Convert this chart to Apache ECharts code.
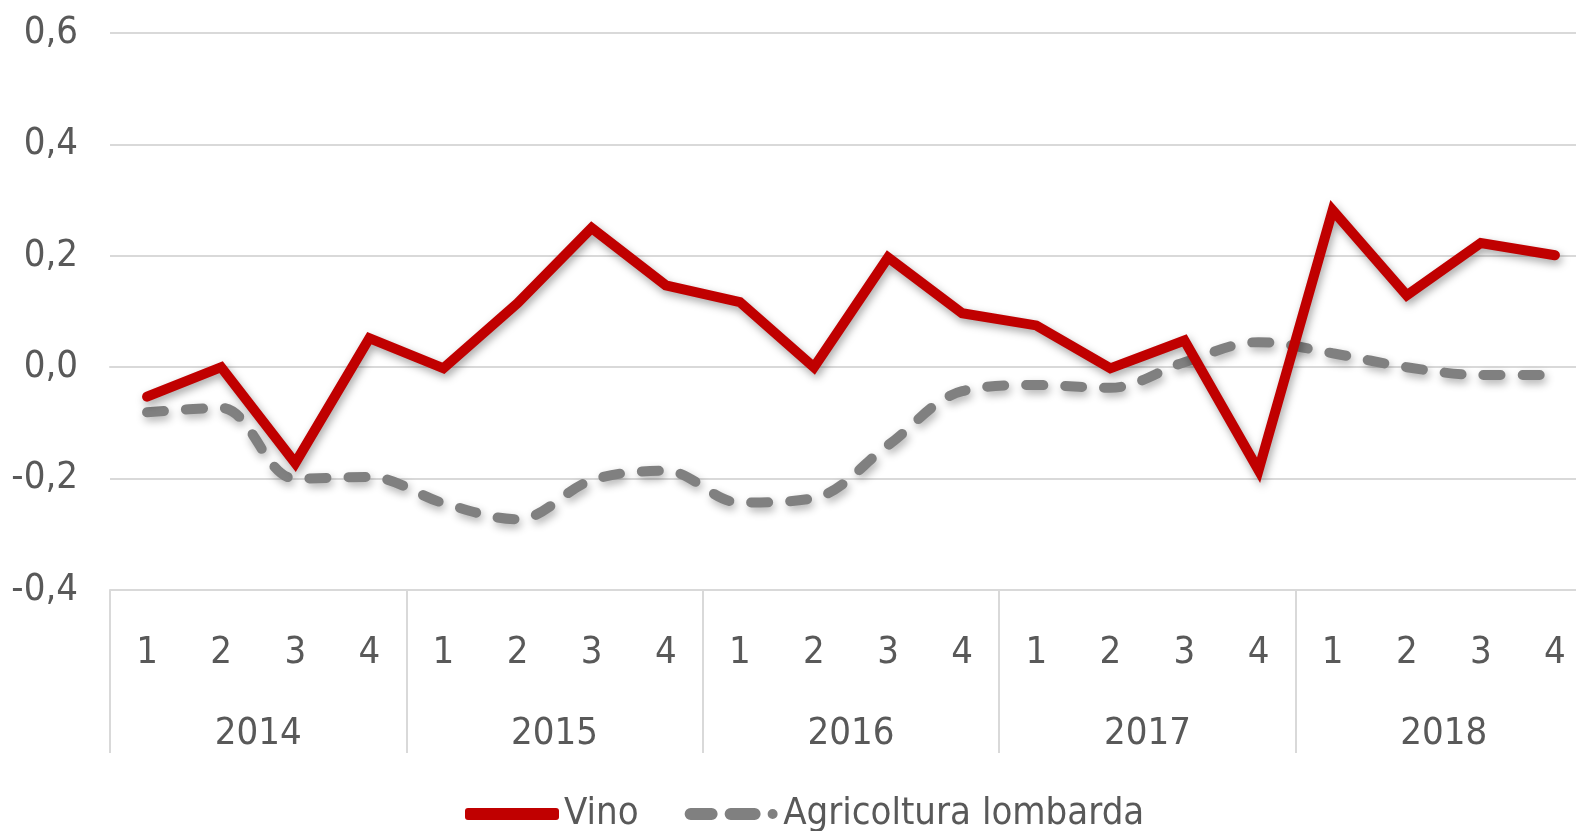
<!DOCTYPE html>
<html>
<head>
<meta charset="utf-8">
<script src="https://cdn.jsdelivr.net/npm/echarts@6/dist/echarts.min.js"></script>
<style>
html, body { margin: 0; padding: 0; background: #fff; }
#chart { width: 1576px; height: 831px; }
</style>
</head>
<body>
<div id="chart"></div>
<script>
var quarters = ['1','2','3','4','1','2','3','4','1','2','3','4','1','2','3','4','1','2','3','4'];
var years = ['2014','2015','2016','2017','2018'];
var vino = [-0.053, 0.0, -0.172, 0.052, -0.002, 0.115, 0.25, 0.147, 0.117, 0.0,
	0.197, 0.097, 0.075, -0.002, 0.048, -0.185, 0.282, 0.129, 0.223, 0.201];
var agricoltura = [-0.081, -0.073, -0.2, -0.197, -0.244, -0.273, -0.203, -0.186, -0.243, -0.235,
	-0.14, -0.043, -0.032, -0.037, 0.009, 0.045, 0.025, 0.0, -0.014, -0.014];

var fontName = '"DejaVu Sans Condensed", "DejaVu Sans", sans-serif';
var textColor = '#595959';
var gridColor = '#D9D9D9';
var fs = 38;

// legend icon: two dashes and a dot
var dashIcon = 'path://M6,0 L27,0 A6,6 0 0 1 27,12 L6,12 A6,6 0 0 1 6,0 Z ' +
	'M46,0 L70,0 A6,6 0 0 1 70,12 L46,12 A6,6 0 0 1 46,0 Z ' +
	'M88,1 A5,5 0 1 1 88,11 A5,5 0 1 1 88,1 Z';

var myChart = echarts.init(document.getElementById('chart'));
var option = {
	backgroundColor: '#fff',
	animation: false,
	textStyle: { fontFamily: fontName },
	grid: { left: 110, top: 33, width: 1482, height: 557, outerBoundsMode: 'none' },
	legend: {
		left: 460,
		top: 790,
		itemWidth: 94,
		itemHeight: 12,
		itemGap: 46,
		itemStyle: { borderWidth: 0 },
		textStyle: { fontSize: fs, color: textColor, fontFamily: fontName },
		data: [
			{ name: 'Vino', icon: 'roundRect' },
			{ name: 'Agricoltura lombarda', icon: dashIcon }
		]
	},
	xAxis: [
		{
			type: 'category',
			data: quarters,
			axisLine: { lineStyle: { color: gridColor, width: 2 } },
			axisTick: { show: false },
			axisLabel: { color: textColor, fontSize: fs, margin: 44, interval: 0, fontFamily: fontName }
		},
		{
			type: 'category',
			position: 'bottom',
			data: years,
			axisLine: { show: true, lineStyle: { color: gridColor, width: 2 } },
			axisTick: { show: true, interval: 0, length: 163, lineStyle: { color: gridColor, width: 2 } },
			axisLabel: { color: textColor, fontSize: fs, margin: 125, interval: 0, fontFamily: fontName }
		}
	],
	yAxis: {
		type: 'value',
		min: -0.4,
		max: 0.6,
		interval: 0.2,
		axisLine: { show: false },
		axisTick: { show: false },
		splitLine: { lineStyle: { color: gridColor, width: 2 } },
		axisLabel: {
			color: textColor,
			fontSize: fs,
			margin: 32,
			fontFamily: fontName,
			formatter: function (v) {
				if (Math.abs(v) < 1e-9) v = 0;
				return v.toFixed(1).replace('.', ',');
			}
		}
	},
	series: [
		{
			name: 'Vino',
			type: 'line',
			xAxisIndex: 0,
			data: vino,
			symbol: 'none',
			color: '#C00000',
			lineStyle: {
				color: '#C00000', width: 10, cap: 'round', join: 'miter',
				shadowColor: 'rgba(0,0,0,0.35)', shadowBlur: 8, shadowOffsetX: 2, shadowOffsetY: 4
			},
			z: 3
		},
		{
			name: 'Agricoltura lombarda',
			type: 'line',
			xAxisIndex: 0,
			data: agricoltura,
			symbol: 'none',
			smooth: 0.35,
			color: '#808080',
			lineStyle: {
				color: '#808080', width: 10, type: [17, 22], cap: 'round',
				shadowColor: 'rgba(0,0,0,0.3)', shadowBlur: 8, shadowOffsetX: 2, shadowOffsetY: 4
			},
			z: 2
		}
	]
};
myChart.setOption(option);
</script>
</body>
</html>
